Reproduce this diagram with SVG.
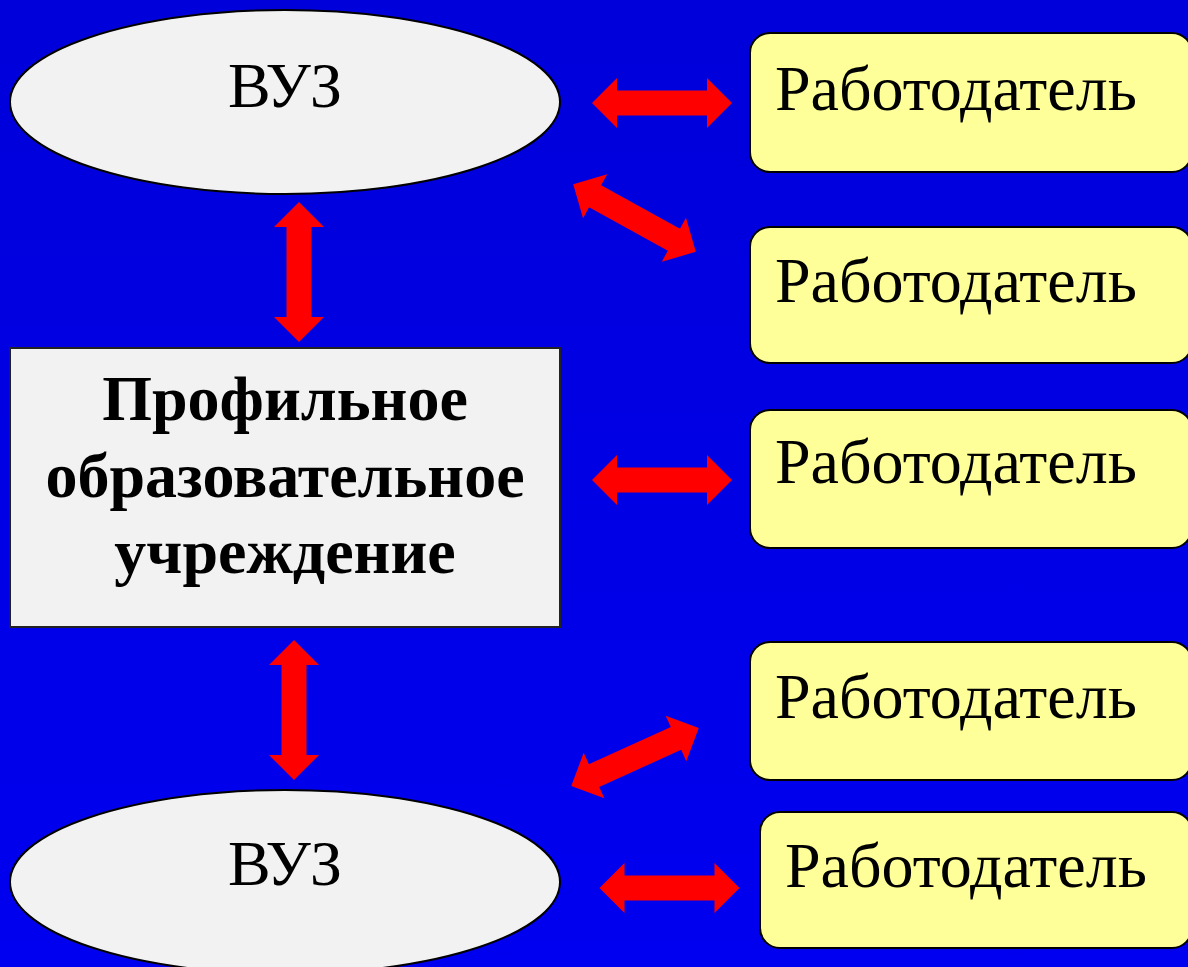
<svg xmlns="http://www.w3.org/2000/svg" width="1188" height="967" viewBox="0 0 1188 967">
<defs>
<linearGradient id="bg" x1="0" y1="0" x2="0" y2="1">
<stop offset="0" stop-color="#0000da"/>
<stop offset="1" stop-color="#0000f0"/>
</linearGradient>
<path id="dbl" d="M-70,0 L-45,-25 L-45,-12.5 L45,-12.5 L45,-25 L70,0 L45,25 L45,12.5 L-45,12.5 L-45,25 Z"/>
</defs>
<style>
.vuz{fill:#f2f2f2;stroke:#000;stroke-width:2}
.org{fill:#f2f2f2;stroke:#222;stroke-width:2}
.emp{fill:#ffff99;stroke:#000;stroke-width:2}
.t{font-family:"Liberation Serif","Times New Roman",serif;fill:#000}
.tv{font-size:64px;text-anchor:middle}
.te{font-size:64px}
.tb{font-size:64px;font-weight:bold;text-anchor:middle}
.arr{fill:#ff0000}
</style>
<rect x="0" y="0" width="1188" height="967" fill="url(#bg)"/>
<g id="connectors" class="arr">
<use href="#dbl" transform="translate(662,103)"/>
<use href="#dbl" transform="translate(634.5,218) rotate(28.9)"/>
<use href="#dbl" transform="translate(299,272) rotate(90)"/>
<use href="#dbl" transform="translate(662,480)"/>
<use href="#dbl" transform="translate(294,710) rotate(90)"/>
<use href="#dbl" transform="translate(635,757) rotate(-24.4)"/>
<use href="#dbl" transform="translate(669.5,888)"/>
</g>
<g id="vuz1">
<ellipse class="vuz" cx="285" cy="102" rx="275" ry="92"/>
<text class="t tv" x="285" y="107">ВУЗ</text>
</g>
<g id="vuz2">
<ellipse class="vuz" cx="285" cy="882" rx="275" ry="92"/>
<text class="t tv" x="285" y="885">ВУЗ</text>
</g>
<g id="school">
<rect class="org" x="10" y="348" width="550" height="279"/>
<text class="t tb" x="285" y="420">Профильное</text>
<text class="t tb" x="285" y="497">образовательное</text>
<text class="t tb" x="285" y="573">учреждение</text>
</g>
<g id="emp1">
<rect class="emp" x="750" y="33" width="442" height="139" rx="20"/>
<text class="t te" x="775" y="110">Работодатель</text>
</g>
<g id="emp2">
<rect class="emp" x="750" y="227" width="442" height="136" rx="20"/>
<text class="t te" x="775" y="302">Работодатель</text>
</g>
<g id="emp3">
<rect class="emp" x="750" y="410" width="442" height="138" rx="20"/>
<text class="t te" x="775" y="483">Работодатель</text>
</g>
<g id="emp4">
<rect class="emp" x="750" y="642" width="442" height="138" rx="20"/>
<text class="t te" x="775" y="718">Работодатель</text>
</g>
<g id="emp5">
<rect class="emp" x="760" y="812" width="432" height="136" rx="20"/>
<text class="t te" x="785" y="887">Работодатель</text>
</g>
</svg>
